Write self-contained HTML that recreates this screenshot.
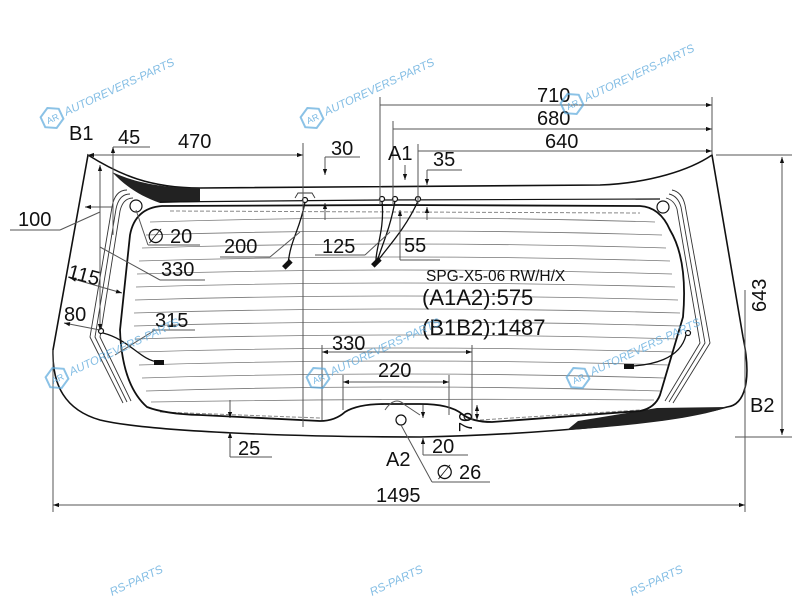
<!DOCTYPE html>
<html><head><meta charset="utf-8"><style>
html,body{margin:0;padding:0;background:#fff;width:800px;height:600px;overflow:hidden;}
svg{display:block;font-family:"Liberation Sans",Arial,sans-serif;}
.d{stroke:#555;stroke-width:1;fill:none}
.k{stroke:#111;fill:none}
.t{font-size:20px;fill:#111}
.h{stroke:#777;stroke-width:0.8;fill:none}
.w{font-size:11.5px;fill:#5aa8dc;font-style:italic;opacity:.75}
</style></head><body>
<svg width="800" height="600" viewBox="0 0 800 600" xmlns="http://www.w3.org/2000/svg" overflow="hidden">
<defs>
<marker id="a" viewBox="0 0 10 10" refX="10" refY="5" markerWidth="8" markerHeight="6" orient="auto-start-reverse"><path d="M0,1.5 L10,5 L0,8.5z" fill="#111"/></marker>
<g id="wm"><path d="M0,-11 L10,-5.5 L10,5.5 L0,11 L-10,5.5 L-10,-5.5z" fill="none" stroke="#5aa8dc" stroke-width="2" opacity=".7"/><text x="-6" y="4" font-size="9" fill="#5aa8dc" opacity=".8">AR</text><text x="14" y="4" class="w">AUTOREVERS-PARTS</text></g>
</defs>

<g class="h">
<path d="M150,222 Q400,214 655,222"/>
<path d="M146,235 Q400,227 662,235"/>
<path d="M142,248 Q400,240 666,248"/>
<path d="M139,261 Q400,253 670,261"/>
<path d="M137,274 Q400,266 672,274"/>
<path d="M136,287 Q400,279 675,287"/>
<path d="M135,300 Q400,292 678,300"/>
<path d="M134,313 Q400,305 680,313"/>
<path d="M134,326 Q400,318 680,326"/>
<path d="M135,339 Q400,331 677,339"/>
<path d="M137,352 Q400,344 673,352"/>
<path d="M139,365 Q400,357 669,365"/>
<path d="M142,378 Q400,370 664,378"/>
<path d="M146,391 Q400,383 660,391"/>
<path d="M151,402 Q400,398 654,400"/>
</g>
<path d="M170,211 L640,213" stroke="#888" stroke-dasharray="4,2" fill="none"/>
<path d="M160,412 L320,418 M480,420 L640,410" stroke="#888" stroke-dasharray="4,2" fill="none"/>

<path class="k" stroke-width="1.6" d="M88,155 C120,175 150,188 200,188 L600,185 C650,183 690,170 712,155 L743,337 C752,380 745,405 727,407 C680,420 560,434 420,437 C300,437 150,432 100,420 C65,410 52,385 53,350 Z"/>
<path d="M112,172 C140,185 170,188 200,188 L200,202 L160,203 C140,196 125,186 112,172Z" fill="#222"/>
<path d="M567,430 L578,421 L657,408 L727,407 C700,418 630,426 567,430Z" fill="#222"/>
<path class="k" stroke-width="1.2" d="M160,202 L380,200 L660,199"/>
<path class="k" stroke-width="1.8" d="M162,206 Q135,208 130,235 L120,330 Q122,385 147,407 Q165,414 200,415 L320,421 Q335,421 345,412 Q358,404 385,404 L420,404 Q450,404 462,414 Q472,422 492,422 L640,411 Q655,408 660,395 L683,317 Q688,260 670,230 Q660,207 640,206 L400,205 Z"/>
<g stroke="#333" stroke-width="0.9" fill="none">
<path d="M127,190 Q115,190 112,207 L90,337 L123,403"/>
<path d="M130,194 Q119,194 116,209 L95,337 L127,402"/>
<path d="M133,198 Q123,198 120,211 L100,337 L131,401"/>
<path d="M672,190 Q682,192 685,205 L710,343 L673,403"/>
<path d="M669,194 Q678,196 681,207 L705,343 L669,402"/>
<path d="M666,198 Q674,200 677,209 L700,343 L665,401"/>
<path d="M295,198 L298,193 L312,193 L315,198"/>
</g>
<g stroke="#111" stroke-width="1.2" fill="#fff">
<circle cx="136" cy="206" r="6"/><circle cx="663" cy="207" r="6"/><circle cx="401" cy="420" r="5"/>
<circle cx="305" cy="200" r="2.5"/><circle cx="382" cy="199" r="2.5"/><circle cx="395" cy="199" r="2.5"/><circle cx="418" cy="199" r="2.5"/>
<circle cx="101" cy="331" r="2.5"/><circle cx="688" cy="333" r="2.5"/>
</g>
<path d="M385,410 Q395,395 405,405 L420,415" stroke="#555" fill="none"/>
<g stroke="#111" stroke-width="1.3" fill="none">
<path d="M305,202 C300,230 290,240 288,265"/>
<path d="M382,201 C385,230 375,250 376,262"/>
<path d="M395,201 C390,230 380,250 377,262"/>
<path d="M418,201 C405,230 385,250 377,262"/>
<path d="M103,333 C130,340 140,360 158,362"/>
<path d="M686,335 C680,360 650,365 632,366"/>
</g>
<g fill="#111">
<rect x="282" y="262" width="10" height="5" transform="rotate(-45 287 264)"/>
<rect x="371" y="260" width="10" height="5" transform="rotate(-45 376 262)"/>
<rect x="154" y="360" width="10" height="5"/>
<rect x="624" y="364" width="10" height="5"/>
</g>

<g class="d">
<line x1="53" y1="350" x2="53" y2="512"/><line x1="745" y1="290" x2="745" y2="512"/>
<line x1="53" y1="505" x2="745" y2="505" marker-start="url(#a)" marker-end="url(#a)"/>
<line x1="380" y1="97" x2="380" y2="205"/><line x1="393" y1="121" x2="393" y2="205"/><line x1="418" y1="144" x2="418" y2="205"/>
<line x1="712" y1="97" x2="712" y2="155"/>
<line x1="380" y1="105" x2="712" y2="105" marker-end="url(#a)"/>
<line x1="393" y1="129" x2="712" y2="129" marker-end="url(#a)"/>
<line x1="418" y1="151" x2="712" y2="151" marker-end="url(#a)"/>
<line x1="88" y1="155" x2="303" y2="155" marker-start="url(#a)" marker-end="url(#a)"/>
<line x1="303" y1="143" x2="303" y2="427"/>
<line x1="113" y1="147" x2="150" y2="147"/><line x1="113" y1="147" x2="113" y2="235" marker-start="url(#a)"/>
<line x1="100" y1="165" x2="100" y2="330" marker-start="url(#a)" marker-end="url(#a)"/>
<line x1="716" y1="155" x2="792" y2="155"/><line x1="735" y1="437" x2="792" y2="437"/>
<line x1="782" y1="157" x2="782" y2="435" marker-start="url(#a)" marker-end="url(#a)"/>
<line x1="325" y1="157" x2="360" y2="157"/><line x1="325" y1="157" x2="325" y2="175" marker-end="url(#a)"/><line x1="325" y1="220" x2="325" y2="203" marker-end="url(#a)"/>
<line x1="405" y1="165" x2="405" y2="180" marker-end="url(#a)"/><line x1="400" y1="260" x2="400" y2="210" marker-end="url(#a)"/><line x1="400" y1="260" x2="440" y2="260"/>
<line x1="427" y1="170" x2="462" y2="170"/><line x1="427" y1="170" x2="427" y2="185" marker-end="url(#a)"/><line x1="427" y1="220" x2="427" y2="207" marker-end="url(#a)"/>
<line x1="322" y1="345" x2="322" y2="420"/><line x1="472" y1="345" x2="472" y2="420"/>
<line x1="322" y1="352" x2="472" y2="352" marker-start="url(#a)" marker-end="url(#a)"/>
<line x1="343" y1="375" x2="343" y2="410"/><line x1="449" y1="375" x2="449" y2="415"/>
<line x1="343" y1="382" x2="449" y2="382" marker-start="url(#a)" marker-end="url(#a)"/>
<line x1="230" y1="400" x2="230" y2="418" marker-end="url(#a)"/><line x1="230" y1="457" x2="230" y2="432" marker-end="url(#a)"/><line x1="230" y1="457" x2="272" y2="457"/>
<line x1="423" y1="405" x2="423" y2="418" marker-end="url(#a)"/><line x1="423" y1="455" x2="423" y2="438" marker-end="url(#a)"/><line x1="423" y1="455" x2="468" y2="455"/>
<line x1="477" y1="405" x2="477" y2="420" marker-start="url(#a)" marker-end="url(#a)"/>
<line x1="401" y1="425" x2="432" y2="482"/><line x1="432" y1="482" x2="490" y2="482"/>
<line x1="10" y1="230" x2="60" y2="230"/><line x1="60" y1="230" x2="100" y2="212"/>
<line x1="85" y1="207" x2="112" y2="207" marker-start="url(#a)"/>
<line x1="136" y1="210" x2="148" y2="245"/><line x1="148" y1="245" x2="200" y2="245"/>
<line x1="220" y1="257" x2="270" y2="257"/><line x1="270" y1="257" x2="300" y2="232"/>
<line x1="315" y1="255" x2="365" y2="255"/><line x1="365" y1="255" x2="390" y2="232"/>
<line x1="100" y1="247" x2="160" y2="280"/><line x1="160" y1="280" x2="205" y2="280"/>
<line x1="70" y1="278" x2="122" y2="293" marker-start="url(#a)" marker-end="url(#a)"/>
<line x1="64" y1="323" x2="100" y2="330" marker-start="url(#a)"/>
<line x1="115" y1="355" x2="155" y2="330"/><line x1="152" y1="330" x2="195" y2="330"/>
</g>

<g class="t">
<text x="69" y="140">B1</text>
<text x="118" y="144">45</text>
<text x="178" y="148">470</text>
<text x="331" y="155">30</text>
<text x="388" y="160">A1</text>
<text x="433" y="166">35</text>
<text x="537" y="102">710</text>
<text x="537" y="125">680</text>
<text x="545" y="148">640</text>
<text x="18" y="226">100</text>
<text x="147" y="243">∅ 20</text>
<text x="224" y="253">200</text>
<text x="322" y="253">125</text>
<text x="404" y="252">55</text>
<text x="161" y="276">330</text>
<text x="68" y="282" transform="rotate(15 85 275)">115</text>
<text x="64" y="321">80</text>
<text x="155" y="327">315</text>
<text x="426" y="281" style="font-size:15.5px">SPG-X5-06 RW/H/X</text>
<text x="422" y="305" style="font-size:22px">(A1A2):575</text>
<text x="422" y="335" style="font-size:22px">(B1B2):1487</text>
<text x="332" y="350">330</text>
<text x="378" y="377">220</text>
<text x="766" y="312" transform="rotate(-90 766 312)">643</text>
<text x="750" y="412">B2</text>
<text x="472" y="432" transform="rotate(-90 472 432)" style="font-size:18px">76</text>
<text x="238" y="455">25</text>
<text x="386" y="466">A2</text>
<text x="432" y="453">20</text>
<text x="436" y="479">∅ 26</text>
<text x="376" y="502">1495</text>
</g>

<use href="#wm" transform="translate(52,118) rotate(-25)"/>
<use href="#wm" transform="translate(312,118) rotate(-25)"/>
<use href="#wm" transform="translate(572,104) rotate(-25)"/>
<use href="#wm" transform="translate(57,378) rotate(-25)"/>
<use href="#wm" transform="translate(318,378) rotate(-25)"/>
<use href="#wm" transform="translate(578,378) rotate(-25)"/>
<text class="w" transform="translate(112,596) rotate(-25)">RS-PARTS</text>
<text class="w" transform="translate(372,596) rotate(-25)">RS-PARTS</text>
<text class="w" transform="translate(632,596) rotate(-25)">RS-PARTS</text>
</svg>
</body></html>
